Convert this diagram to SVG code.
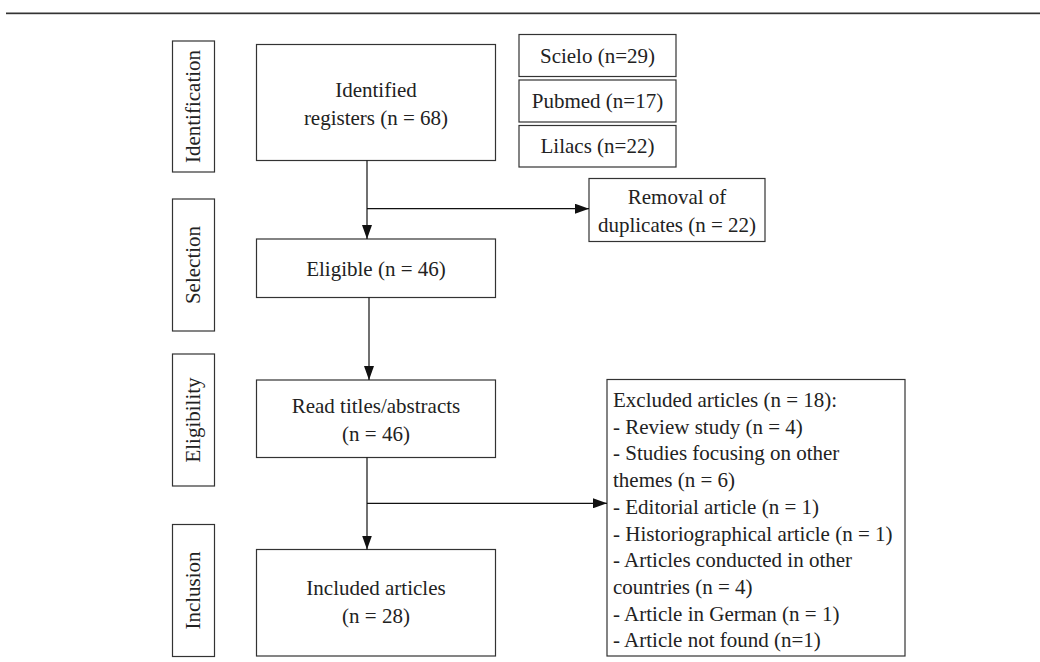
<svg xmlns="http://www.w3.org/2000/svg" width="1040" height="662" viewBox="0 0 1040 662">
<defs>
<style>
.box{fill:#fff;stroke:#333;stroke-width:1.2}
.t{font-family:"Liberation Serif","Times New Roman",serif;font-size:21px;fill:#222}
.c{text-anchor:middle}
.ln{fill:none;stroke:#111;stroke-width:1.2}
</style>
<marker id="ah" markerWidth="14" markerHeight="10" refX="14" refY="5" orient="auto" markerUnits="userSpaceOnUse">
<path d="M0,0 L14,5 L0,10 Z" fill="#111"/>
</marker>
</defs>
<rect width="1040" height="662" fill="#fff"/>
<rect x="6" y="12" width="1034" height="1" fill="#999"/>
<rect x="6" y="13" width="1034" height="1.2" fill="#333"/>

<g id="phase-identification">
<rect class="box" x="172.5" y="41" width="42" height="131"/>
<text class="t c" transform="translate(200,106.5) rotate(-90)">Identification</text>
</g>
<g id="phase-selection">
<rect class="box" x="172.5" y="199" width="42" height="132"/>
<text class="t c" transform="translate(200,265) rotate(-90)">Selection</text>
</g>
<g id="phase-eligibility">
<rect class="box" x="172.5" y="354" width="42" height="132"/>
<text class="t c" transform="translate(200,420) rotate(-90)">Eligibility</text>
</g>
<g id="phase-inclusion">
<rect class="box" x="172.5" y="524.5" width="42" height="132"/>
<text class="t c" transform="translate(200,590.5) rotate(-90)">Inclusion</text>
</g>

<g id="identified">
<rect class="box" x="256.5" y="44.5" width="239" height="116"/>
<text class="t c" x="376" y="97">Identified</text>
<text class="t c" x="376" y="125">registers (n = 68)</text>
</g>
<g id="scielo">
<rect class="box" x="519" y="34.5" width="157" height="42"/>
<text class="t c" x="597.5" y="62.5">Scielo (n=29)</text>
</g>
<g id="pubmed">
<rect class="box" x="519" y="80" width="157" height="42"/>
<text class="t c" x="597.5" y="108">Pubmed (n=17)</text>
</g>
<g id="lilacs">
<rect class="box" x="519" y="125.5" width="157" height="41.5"/>
<text class="t c" x="597.5" y="153">Lilacs (n=22)</text>
</g>
<g id="removal">
<rect class="box" x="589" y="178.5" width="176" height="63"/>
<text class="t c" x="677" y="204">Removal of</text>
<text class="t c" x="677" y="232">duplicates (n = 22)</text>
</g>
<g id="eligible">
<rect class="box" x="256.5" y="239" width="239" height="58.5"/>
<text class="t c" x="376" y="275.5">Eligible (n = 46)</text>
</g>
<g id="read">
<rect class="box" x="256.5" y="380" width="239" height="77.5"/>
<text class="t c" x="376" y="413">Read titles/abstracts</text>
<text class="t c" x="376" y="440.5">(n = 46)</text>
</g>
<g id="included">
<rect class="box" x="256.5" y="549.5" width="239" height="106.5"/>
<text class="t c" x="376" y="595">Included articles</text>
<text class="t c" x="376" y="622.5">(n = 28)</text>
</g>
<g id="excluded">
<rect class="box" x="607" y="379.5" width="298" height="276.5"/>
<text class="t" x="613" y="407">Excluded articles (n = 18):</text>
<text class="t" x="613" y="433.7">- Review study (n = 4)</text>
<text class="t" x="613" y="460.4">- Studies focusing on other</text>
<text class="t" x="613" y="487.1">themes (n = 6)</text>
<text class="t" x="613" y="513.8">- Editorial article (n = 1)</text>
<text class="t" x="613" y="540.5">- Historiographical article (n = 1)</text>
<text class="t" x="613" y="567.2">- Articles conducted in other</text>
<text class="t" x="613" y="593.9">countries (n = 4)</text>
<text class="t" x="613" y="620.6">- Article in German (n = 1)</text>
<text class="t" x="613" y="647.3">- Article not found (n=1)</text>
</g>

<g id="connectors">
<path class="ln" d="M367,160.5 V239" marker-end="url(#ah)"/>
<path class="ln" d="M367,208.7 H589" marker-end="url(#ah)"/>
<path class="ln" d="M369,297.5 V380" marker-end="url(#ah)"/>
<path class="ln" d="M367,457.5 V549.5" marker-end="url(#ah)"/>
<path class="ln" d="M367,503.3 H607" marker-end="url(#ah)"/>
</g>
</svg>
